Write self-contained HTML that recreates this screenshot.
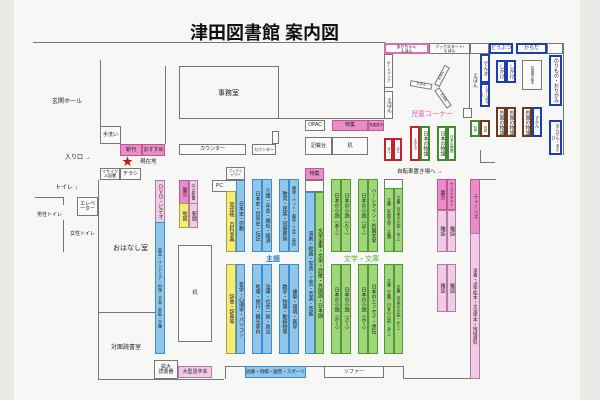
<!DOCTYPE html>
<html><head><meta charset="utf-8"><style>
*{margin:0;padding:0;box-sizing:border-box}
body{width:600px;height:400px;overflow:hidden;background:#eceae6;position:relative;font-family:"Liberation Sans","Noto Sans CJK JP",sans-serif;color:#222}
#paper{position:absolute;left:14px;top:0;width:566px;height:400px;background:#f7f7f6}
.a{position:absolute}
.b{position:absolute;border:1px solid #777;background:#fafafa;font-size:5px;display:flex;align-items:center;justify-content:center;text-align:center;line-height:1}
.v{writing-mode:vertical-rl}
.bl{background:#8fc6ea;border-color:#3a8ccc}
.gr{background:#9ed679;border-color:#4f9a34}
.pk{background:#ea8cc6;border-color:#c0569a}
.lp{background:#f1cbe6;border-color:#b47aa4}
.ye{background:#f1ee7c;border-color:#a8a040}
.rd{background:#fff;border:2px solid #c3222c}
.br{background:#fff;border:2px solid #6b3a1e}
.db{background:#fff;border:2px solid #1e3db0}
.dg{background:#fff;border:2px solid #3f8d2a}
.pb{background:#fff;border:2px solid #e06bb0}
.hl{position:absolute;height:1px;background:#777}
.vl{position:absolute;width:1px;background:#777}
.t{position:absolute;font-size:6px;white-space:nowrap}
</style></head><body>
<div id="paper"></div>
<div class="t" style="left:190px;top:19px;font-size:18px;font-weight:bold;color:#111;letter-spacing:0px">津田図書館 案内図</div>
<div class="hl" style="left:33px;top:42px;width:352px"></div>

<!-- left area -->
<div class="vl" style="left:100px;top:60px;height:84px"></div>
<div class="vl" style="left:165px;top:66px;height:78px"></div>
<div class="t" style="left:52px;top:96px">玄関ホール</div>
<div class="b" style="left:100px;top:126px;width:21px;height:18px">手洗い</div>
<div class="b pk" style="left:120px;top:144px;width:22px;height:12px">新刊</div>
<div class="b pk" style="left:142px;top:144px;width:23px;height:12px">おすすめ</div>
<div class="t" style="left:122px;top:153px;color:#d01010;font-size:11px">★</div>
<div class="t" style="left:140px;top:157px;font-size:5.5px">現在地</div>
<div class="t" style="left:65px;top:152px">入り口 →</div>
<div class="b" style="left:100px;top:168px;width:20px;height:12px;font-size:4px">リサイクル図書</div>
<div class="b" style="left:120px;top:168px;width:21px;height:12px">チラシ</div>
<div class="t" style="left:55px;top:182px">トイレ ↓</div>
<div class="hl" style="left:35px;top:197px;width:28px"></div>
<div class="vl" style="left:63px;top:197px;height:8px"></div>
<div class="t" style="left:37px;top:211px;font-size:5px">男性トイレ</div>
<div class="b" style="left:77px;top:197px;width:21px;height:19px">エレベーター</div>
<div class="vl" style="left:63px;top:220px;height:32px"></div>
<div class="t" style="left:70px;top:230px;font-size:5px">女性トイレ</div>
<div class="vl" style="left:98px;top:180px;height:200px"></div>
<div class="hl" style="left:98px;top:379px;width:126px"></div>
<div class="t" style="left:113px;top:243px;font-size:7px">おはなし室</div>
<div class="hl" style="left:98px;top:312px;width:57px"></div>
<div class="t" style="left:111px;top:342px;font-size:6px">対面読書室</div>

<!-- office -->
<div class="a" style="left:179px;top:66px;width:100px;height:53px;border:1px solid #777;border-bottom:1px solid #777"></div>
<div class="a" style="left:279px;top:42px;width:106px;height:77px;border-right:1px solid #777;border-bottom:1px solid #777"></div>
<div class="t" style="left:218px;top:88px;font-size:7px">事務室</div>
<div class="b" style="left:179px;top:144px;width:67px;height:11px">カウンター</div>
<div class="b" style="left:252px;top:144px;width:24px;height:11px;font-size:4px">カウンター</div>
<div class="b" style="left:272px;top:131px;width:7px;height:13px"></div>
<div class="b" style="left:305px;top:120px;width:20px;height:11px">OPAC</div>
<div class="b pk" style="left:332px;top:120px;width:36px;height:11px">特集</div>
<div class="b pk" style="left:368px;top:120px;width:16px;height:11px;font-size:3.5px">児童書中</div>
<div class="b" style="left:305px;top:137px;width:27px;height:18px">記載台</div>
<div class="b" style="left:332px;top:137px;width:36px;height:18px">机</div>

<!-- DVD column -->
<div class="b lp v" style="left:155px;top:180px;width:10px;height:43px">ＤＶＤ・ビデオ</div>
<div class="b bl v" style="left:155px;top:222px;width:10px;height:132px;font-size:4px">園芸・インテリア・料理・手芸・家庭・介護</div>
<div class="b pk v" style="left:179px;top:180px;width:10px;height:24px">展示</div>
<div class="b lp v" style="left:189px;top:180px;width:9px;height:24px;font-size:4px">中公新書</div>
<div class="b ye v" style="left:179px;top:203px;width:10px;height:25px">地図</div>
<div class="b lp v" style="left:189px;top:203px;width:9px;height:25px">新聞</div>
<div class="b" style="left:178px;top:245px;width:34px;height:97px">机</div>
<div class="b" style="left:154px;top:360px;width:24px;height:19px">拡大<br>読書器</div>
<div class="b lp" style="left:178px;top:366px;width:34px;height:12px">大型活字本</div>
<div class="vl" style="left:225px;top:366px;height:13px"></div>
<div class="hl" style="left:225px;top:366px;width:20px"></div>
<div class="b bl" style="left:245px;top:366px;width:61px;height:12px;font-size:4.5px">囲碁・将棋・園芸・スポーツ</div>
<div class="hl" style="left:306px;top:366px;width:18px"></div>
<div class="b" style="left:324px;top:366px;width:60px;height:12px">ソファー</div>
<div class="hl" style="left:384px;top:366px;width:19px"></div>
<div class="vl" style="left:403px;top:366px;height:13px"></div>
<div class="hl" style="left:403px;top:378px;width:67px"></div>

<!-- subject shelves -->
<div class="b" style="left:226px;top:167px;width:19px;height:13px;font-size:3.5px">ブックシャワー</div>
<div class="b" style="left:212px;top:180px;width:33px;height:12px;justify-content:flex-start;padding-left:3px">PC</div>
<div class="b ye v" style="left:226px;top:191px;width:10px;height:61px">電話帳　百科事典</div>
<div class="b bl v" style="left:236px;top:180px;width:9px;height:72px">日本史・宗教</div>
<div class="b bl v" style="left:252px;top:179px;width:10px;height:73px">日本史・世界史・伝記</div>
<div class="b bl v" style="left:262px;top:179px;width:10px;height:73px">介護・年金・福祉・経済</div>
<div class="b bl v" style="left:279px;top:179px;width:10px;height:73px">教育・民族・冠婚葬祭</div>
<div class="b bl v" style="left:289px;top:179px;width:10px;height:73px;font-size:4px">健康・ペット・趣味・工芸・美術</div>
<div class="t" style="left:266px;top:254px;color:#1a78d0;font-size:7px;font-weight:bold">主題</div>
<div class="b ye v" style="left:226px;top:264px;width:10px;height:90px">辞書・辞典等</div>
<div class="b bl v" style="left:236px;top:264px;width:9px;height:90px">哲学・心理学・パソコン</div>
<div class="b bl v" style="left:252px;top:264px;width:10px;height:90px">地理・旅行・観光案内</div>
<div class="b bl v" style="left:262px;top:264px;width:10px;height:90px">法律・社会一般・政治</div>
<div class="b bl v" style="left:279px;top:264px;width:10px;height:90px">数学・物理・動植物等</div>
<div class="b bl v" style="left:289px;top:264px;width:10px;height:90px">建築・環境・医学</div>

<div class="b pk" style="left:305px;top:168px;width:19px;height:12px">特集</div>
<div class="b" style="left:305px;top:180px;width:19px;height:12px"></div>
<div class="b bl v" style="left:305px;top:192px;width:10px;height:162px">演劇・絵画・写真・工芸・音楽・芸能</div>
<div class="b gr v" style="left:315px;top:192px;width:9px;height:162px">文学全集・文学・詩歌・外国語・日本語</div>

<div class="b gr v" style="left:331px;top:179px;width:10px;height:73px">日本の小説（あ〜）</div>
<div class="b gr v" style="left:341px;top:179px;width:10px;height:73px">日本の小説（た〜）</div>
<div class="b gr v" style="left:358px;top:179px;width:10px;height:73px">日本の小説（は〜）</div>
<div class="b gr v" style="left:368px;top:179px;width:10px;height:73px">ハーレクイン・外国文学</div>
<div class="b" style="left:384px;top:179px;width:19px;height:10px"></div>
<div class="b gr v" style="left:384px;top:188px;width:10px;height:64px;font-size:4px">文庫（外国文学・主題）</div>
<div class="b gr v" style="left:394px;top:188px;width:9px;height:64px;font-size:4px">文庫（日本の小説・な〜）</div>
<div class="t" style="left:344px;top:254px;color:#56b630;font-size:7px">文学・文庫</div>
<div class="b gr v" style="left:331px;top:264px;width:10px;height:90px">日本の小説（か〜）</div>
<div class="b gr v" style="left:341px;top:264px;width:10px;height:90px">日本の小説（さ〜）</div>
<div class="b gr v" style="left:358px;top:264px;width:10px;height:90px">日本の小説（み〜）</div>
<div class="b gr v" style="left:368px;top:264px;width:10px;height:90px">日本のエッセイ・評伝</div>
<div class="b gr v" style="left:384px;top:264px;width:10px;height:90px;font-size:4px">文庫（主題・日本の小説・あ〜）</div>
<div class="b gr v" style="left:394px;top:264px;width:9px;height:90px;font-size:4px">文庫（日本の小説・か〜）</div>

<div class="t" style="left:397px;top:167px;font-size:5.5px">自転車置き場へ →</div>
<div class="b pk v" style="left:437px;top:179px;width:10px;height:31px">展示</div>
<div class="b pk v" style="left:447px;top:179px;width:9px;height:31px;font-size:3.5px">ヤングアダルト</div>
<div class="b lp v" style="left:437px;top:210px;width:10px;height:42px">雑誌</div>
<div class="b lp v" style="left:447px;top:210px;width:9px;height:42px">雑誌</div>
<div class="b lp v" style="left:437px;top:264px;width:10px;height:48px">雑誌</div>
<div class="b lp v" style="left:447px;top:264px;width:9px;height:48px">雑誌</div>
<div class="b pk v" style="left:470px;top:179px;width:10px;height:55px">ティーンズ</div>
<div class="b lp v" style="left:470px;top:233px;width:10px;height:146px;font-size:4.5px">洋書・点字絵本・大活字本・地域資料</div>
<div class="hl" style="left:480px;top:179px;width:16px"></div>

<!-- children area -->
<div class="b pb" style="left:384px;top:43px;width:45px;height:11px;font-size:4px">あかちゃん<br>えほん</div>
<div class="b" style="left:429px;top:43px;width:41px;height:11px;font-size:4px">ブックスタート/<br>えほん</div>
<div class="b" style="left:470px;top:43px;width:19px;height:11px"></div>
<div class="b db" style="left:489px;top:43px;width:24px;height:11px">どうぶつ</div>
<div class="b db" style="left:516px;top:43px;width:31px;height:11px">からだ</div>
<div class="b" style="left:547px;top:43px;width:16px;height:11px"></div>
<div class="vl" style="left:563px;top:43px;height:112px"></div>
<div class="b v" style="left:384px;top:54px;width:9px;height:34px;font-size:3.5px">ボードブック</div>
<div class="b v" style="left:384px;top:91px;width:9px;height:28px">えほん</div>
<div class="b" style="left:410px;top:82px;width:22px;height:6px;transform:rotate(10deg);font-size:3.5px">えほん</div>
<div class="b" style="left:431px;top:73px;width:22px;height:6px;transform:rotate(-62deg);font-size:3.5px">えほん</div>
<div class="b" style="left:432px;top:95px;width:22px;height:6px;transform:rotate(55deg);font-size:3.5px">えほん</div>
<div class="t" style="left:411px;top:109px;color:#e760b0;font-size:7px">児童コーナー</div>
<div class="vl" style="left:469px;top:54px;height:54px"></div>
<div class="t v" style="left:472px;top:73px;font-size:5px">えほん</div>
<div class="b db v" style="left:480px;top:54px;width:10px;height:29px">でんき</div>
<div class="b db v" style="left:480px;top:83px;width:10px;height:24px;font-size:3.5px">むかしばなし</div>
<div class="b db v" style="left:496px;top:60px;width:10px;height:23px">しかけ</div>
<div class="b db v" style="left:506px;top:60px;width:10px;height:23px">しかけ</div>
<div class="b v" style="left:522px;top:60px;width:20px;height:30px;font-size:3px">外国語の絵本</div>
<div class="b db v" style="left:549px;top:55px;width:13px;height:51px">のりもの・おりがみ</div>
<div class="b db v" style="left:549px;top:120px;width:13px;height:35px;font-size:4px">あんぜん・あそび</div>
<div class="b" style="left:463px;top:108px;width:9px;height:10px"></div>
<div class="b dg v" style="left:470px;top:120px;width:10px;height:17px;font-size:3px">科学</div>
<div class="b br v" style="left:480px;top:120px;width:10px;height:17px;font-size:3px">外国</div>
<div class="b br v" style="left:496px;top:107px;width:10px;height:30px">外国の物語</div>
<div class="b br v" style="left:506px;top:107px;width:10px;height:30px">外国の物語</div>
<div class="b br v" style="left:522px;top:107px;width:10px;height:30px">外国の物語</div>
<div class="b db v" style="left:532px;top:107px;width:10px;height:30px;font-size:4px">ずかん</div>
<div class="b rd v" style="left:384px;top:138px;width:9px;height:23px;font-size:3px">ほん</div>
<div class="b rd v" style="left:393px;top:138px;width:9px;height:23px;font-size:3px">ほん</div>
<div class="b rd v" style="left:410px;top:126px;width:10px;height:35px;font-size:3px">よみもの</div>
<div class="b dg v" style="left:420px;top:126px;width:10px;height:35px">日本の物語</div>
<div class="b dg v" style="left:437px;top:126px;width:10px;height:35px">日本の物語</div>
<div class="b dg v" style="left:447px;top:126px;width:9px;height:35px;font-size:3.5px">日本の物語</div>
<div class="vl" style="left:480px;top:150px;height:13px"></div>
<div class="hl" style="left:480px;top:162px;width:15px"></div>
</body></html>
